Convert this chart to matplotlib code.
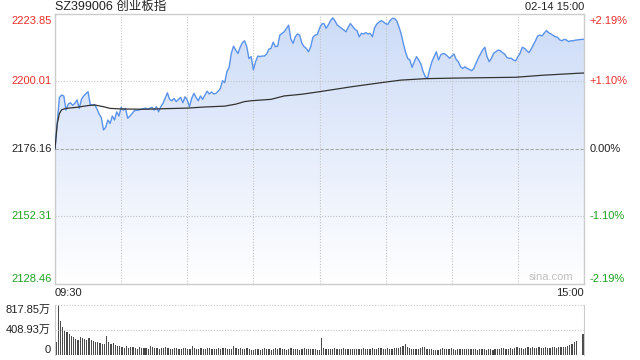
import numpy as np
import matplotlib
matplotlib.use("Agg")
import matplotlib.pyplot as plt
from matplotlib.patches import Polygon
from matplotlib.transforms import offset_copy

plt.rcParams["font.family"] = ["Liberation Sans", "Noto Sans CJK SC", "DejaVu Sans"]

title = "SZ399006 创业板指"
stamp = "02-14 15:00"
prev_close = 2176.16

price_levels = [2223.85, 2200.01, 2176.16, 2152.31, 2128.46]
left_labels = ["2223.85", "2200.01", "2176.16", "2152.31", "2128.46"]
right_labels = ["+2.19%", "+1.10%", "0.00%", "-1.10%", "-2.19%"]

vol_levels = [817.85, 408.93, 0]
vol_labels = ["817.85万", "408.93万", "0"]
time_labels = ["09:30", "15:00"]

# minute index (0 = 09:30, 120 = 11:30/13:00, 240 = 15:00) and index value
price_minutes = [
    0, 2, 3, 4, 5, 6, 7, 8, 9, 10, 11, 12, 13, 15, 16, 17, 18, 19, 20, 21,
    22, 23, 24, 25, 26, 27, 28, 29, 30, 31, 32, 33, 34, 35, 36, 38, 39, 41, 42, 44,
    45, 46, 47, 48, 49, 51, 52, 53, 54, 55, 57, 58, 59, 60, 61, 62, 63, 64, 65, 66,
    67, 68, 69, 70, 71, 72, 73, 74, 75, 76, 77, 78, 79, 80, 81, 82, 83, 84, 85, 86,
    87, 88, 89, 90, 91, 92, 93, 94, 95, 96, 97, 98, 99, 100, 101, 102, 103, 104, 106, 107,
    108, 109, 110, 111, 112, 113, 114, 115, 116, 117, 118, 119, 120, 121, 122, 123, 124, 125, 126, 127,
    128, 129, 130, 131, 132, 133, 134, 135, 136, 137, 138, 139, 140, 141, 142, 143, 144, 145, 146, 147,
    148, 149, 150, 151, 152, 153, 154, 155, 156, 157, 158, 159, 160, 161, 162, 163, 164, 165, 166, 167,
    168, 169, 170, 171, 172, 173, 174, 175, 176, 177, 178, 179, 180, 181, 182, 183, 184, 185, 186, 187,
    188, 189, 190, 191, 192, 193, 194, 195, 196, 197, 198, 199, 200, 201, 202, 203, 204, 205, 206, 207,
    208, 209, 210, 211, 212, 213, 214, 215, 216, 217, 218, 219, 220, 221, 222, 223, 224, 225, 226, 227,
    228, 229, 230, 231, 232, 233, 234, 235, 236, 237, 238, 239, 240,
]
prices = [
    2176.2, 2194.4, 2195.2, 2194.9, 2189.9, 2192.0, 2192.5, 2191.6, 2192.3, 2193.5,
    2190.5, 2193.7, 2194.9, 2196.4, 2191.9, 2191.7, 2191.8, 2190.4, 2188.5, 2187.3,
    2182.9, 2183.8, 2186.4, 2185.2, 2187.8, 2186.4, 2189.3, 2187.8, 2190.9, 2189.9,
    2190.5, 2187.0, 2187.8, 2188.7, 2189.7, 2189.9, 2190.2, 2190.6, 2190.2, 2190.9,
    2189.9, 2191.1, 2189.3, 2191.1, 2192.3, 2196.0, 2193.7, 2193.2, 2194.0, 2192.9,
    2194.4, 2192.5, 2194.6, 2193.5, 2191.1, 2194.0, 2195.8, 2194.4, 2193.2, 2194.9,
    2193.7, 2195.2, 2196.6, 2195.6, 2196.3, 2195.6, 2195.8, 2196.6, 2197.5, 2200.3,
    2199.6, 2203.5, 2205.0, 2210.0, 2212.5, 2211.1, 2209.9, 2212.1, 2213.7, 2214.4,
    2212.3, 2208.1, 2208.8, 2204.1, 2207.0, 2209.0, 2208.8, 2209.0, 2209.0, 2209.7,
    2211.4, 2211.7, 2213.9, 2212.3, 2212.5, 2216.4, 2217.0, 2217.6, 2219.9, 2215.0,
    2213.5, 2215.8, 2216.8, 2216.4, 2213.5, 2212.3, 2211.7, 2210.5, 2212.3, 2215.6,
    2216.4, 2216.6, 2218.8, 2220.3, 2220.5, 2218.8, 2220.0, 2221.5, 2222.5, 2221.5,
    2220.0, 2219.4, 2218.8, 2218.2, 2217.6, 2219.1, 2220.5, 2219.5, 2218.5, 2218.0,
    2215.8, 2217.0, 2216.8, 2217.3, 2216.8, 2217.0, 2215.8, 2219.0, 2220.3, 2221.0,
    2221.5, 2221.1, 2220.4, 2220.2, 2221.5, 2222.3, 2222.3, 2221.5, 2219.4, 2217.0,
    2213.5, 2210.5, 2208.2, 2207.6, 2205.0, 2207.0, 2208.8, 2207.6, 2206.2, 2203.5,
    2201.7, 2201.1, 2204.3, 2207.0, 2208.8, 2210.5, 2207.6, 2209.4, 2209.9, 2209.7,
    2209.0, 2208.2, 2209.0, 2209.7, 2207.8, 2207.0, 2205.2, 2204.6, 2205.2, 2204.6,
    2204.3, 2203.8, 2204.6, 2206.5, 2208.2, 2209.7, 2211.1, 2212.1, 2208.8, 2207.0,
    2208.2, 2210.0, 2210.5, 2211.1, 2210.9, 2210.2, 2209.7, 2208.5, 2208.2, 2208.2,
    2207.6, 2207.3, 2208.8, 2210.0, 2212.1, 2211.7, 2210.9, 2210.2, 2211.4, 2212.9,
    2214.4, 2216.1, 2216.4, 2216.1, 2217.2, 2218.0, 2217.2, 2216.8, 2216.3, 2215.8,
    2215.6, 2214.7, 2214.4, 2214.9, 2214.7, 2214.1, 2214.4, 2214.4, 2214.6, 2214.7,
    2214.8, 2214.9, 2214.9,
]

avg_minutes = [0, 1, 2, 3, 5, 10, 15, 18, 22, 25, 30, 40, 50, 60, 68, 77, 82, 86, 89, 98,
               104, 112, 120, 135, 150, 157, 168, 181, 209, 221, 237, 240]
avg_prices = [2176.2, 2185.0, 2188.7, 2190.0, 2190.5, 2190.9, 2191.5, 2191.7, 2191.1, 2190.5,
              2190.3, 2190.2, 2190.4, 2190.6, 2191.0, 2191.3, 2192.0, 2192.9, 2193.2, 2193.7,
              2194.9, 2195.5, 2196.4, 2198.2, 2199.8, 2200.5, 2201.0, 2201.2, 2201.5, 2202.2,
              2202.9, 2203.0]

# per-minute volume, 万 shares
volumes = [
    218, 818, 556, 458, 414, 371, 338, 316, 294, 262,
    251, 294, 283, 262, 240, 273, 251, 229, 218, 207,
    196, 185, 175, 305, 218, 175, 196, 164, 153, 142,
    131, 120, 142, 109, 131, 126, 115, 104, 136, 120,
    109, 115, 104, 153, 126, 120, 115, 104, 109, 120,
    131, 115, 98, 104, 109, 115, 98, 104, 120, 109,
    104, 98, 147, 115, 93, 104, 109, 98, 104, 115,
    109, 98, 93, 104, 115, 98, 109, 120, 104, 98,
    93, 142, 109, 104, 115, 104, 98, 109, 93, 87,
    76, 93, 98, 82, 98, 109, 104, 93, 87, 98,
    109, 98, 115, 104, 98, 87, 104, 109, 98, 93,
    104, 87, 98, 109, 104, 98, 93, 104, 98, 87,
    76, 283, 120, 98, 93, 104, 98, 109, 104, 93,
    98, 109, 93, 98, 104, 93, 98, 104, 98, 93,
    109, 98, 104, 98, 109, 104, 98, 115, 109, 104,
    98, 109, 104, 98, 109, 120, 109, 131, 153, 175,
    131, 109, 98, 104, 98, 104, 120, 136, 131, 104,
    98, 93, 82, 87, 76, 98, 115, 104, 93, 104,
    109, 98, 87, 104, 98, 93, 98, 104, 93, 98,
    104, 93, 87, 98, 104, 93, 87, 98, 93, 82,
    98, 104, 98, 120, 109, 98, 104, 109, 104, 115,
    126, 120, 109, 104, 115, 126, 120, 126, 115, 120,
    126, 120, 115, 126, 120, 115, 126, 131, 120, 126,
    131, 136, 136, 147, 164, 185, 207, 229, 4, 4,
    338,
]

RED = "#e8302c"
GREEN = "#1ea21e"
BLACK = "#222222"


def level_color(v):
    if v > prev_close + 0.001:
        return RED
    if v < prev_close - 0.001:
        return GREEN
    return BLACK


fig = plt.figure(figsize=(6.4, 3.6), dpi=100)
ax = fig.add_axes([55 / 640, 1 - 284 / 360, 529 / 640, 270 / 360])
vax = fig.add_axes([55 / 640, 1 - 355 / 360, 529 / 640, 50 / 360])

lo, hi = price_levels[-1], price_levels[0]
n_min = len(volumes) - 1

# gradient fill under the price line
top_rgb = np.array([0.80, 0.86, 0.97])
bot_rgb = np.array([1.0, 1.0, 1.0])
t = np.linspace(0, 1, 256)[:, None]
grad = (top_rgb * (1 - t) + bot_rgb * t)[:, None, :]
im = ax.imshow(grad, extent=[0, n_min, lo, hi], aspect="auto", origin="upper", zorder=1)
verts = [(price_minutes[0], lo)] + list(zip(price_minutes, prices)) + [(price_minutes[-1], lo)]
clip = Polygon(verts, closed=True, fc="none", ec="none")
ax.add_patch(clip)
im.set_clip_path(clip)

ax.set_xlim(0, n_min)
ax.set_ylim(lo, hi)

for k in range(30, n_min, 30):
    ax.axvline(k, color="#c4c4c4", lw=0.8, ls=(0, (1, 1.5)), zorder=2)
for v in price_levels[1:-1]:
    if v == prev_close:
        ax.axhline(v, color="#a8a8a8", lw=0.8, ls=(0, (3, 1.5)), zorder=2)
    else:
        ax.axhline(v, color="#c4c4c4", lw=0.8, ls=(0, (1, 1.5)), zorder=2)

ax.plot(price_minutes, prices, color="#5b93ea", lw=1.0, zorder=3)
ax.plot(avg_minutes, avg_prices, color="#333333", lw=0.9, zorder=4)

for s in ax.spines.values():
    s.set_color("#cccccc")
    s.set_linewidth(1.0)
ax.set_xticks([])
ax.set_yticks([])

# edge labels sit just inside the plot box
ytr = ax.get_yaxis_transform()
for i, (v, l, r) in enumerate(zip(price_levels, left_labels, right_labels)):
    if i == 0:
        va, tr = "top", offset_copy(ytr, fig=fig, y=-2, units="dots")
    elif i == len(price_levels) - 1:
        va, tr = "bottom", ytr
    else:
        va, tr = "center", ytr
    c = level_color(v)
    ax.text(-0.006, v, l, transform=tr, ha="right", va=va, fontsize=8, color=c)
    ax.text(1.010, v, r, transform=tr, ha="left", va=va, fontsize=8, color=c)

ax.text(0.979, 0.026, "sina.com", transform=ax.transAxes, ha="right", va="center",
        fontsize=8, color="#c0c0c0")

# volume panel
vax.bar(range(len(volumes)), volumes, width=0.55, color="#4a4a4a", lw=0)
vax.set_xlim(-0.5, n_min + 0.5)
vax.set_ylim(0, vol_levels[0])
for v in vol_levels[:2]:
    vax.axhline(v, color="#c4c4c4", lw=0.8, ls=(0, (1, 1.5)), clip_on=False)
for side in ["top", "bottom"]:
    vax.spines[side].set_visible(False)
for side in ["left", "right"]:
    vax.spines[side].set_color("#cccccc")
vax.set_xticks([])
vax.set_yticks([])
vtr = vax.get_yaxis_transform()
for i, (v, l) in enumerate(zip(vol_levels, vol_labels)):
    va = "top" if i == 0 else ("bottom" if i == len(vol_levels) - 1 else "center")
    vax.text(-0.008, v, l, transform=vtr, ha="right", va=va, fontsize=8, color=BLACK)

fig.text(55 / 640, 1 - 7 / 360, title, ha="left", va="center", fontsize=9, color=BLACK)
fig.text(584 / 640, 1 - 7 / 360, stamp, ha="right", va="center", fontsize=8, color=BLACK)
fig.text(55 / 640, 1 - 293.5 / 360, time_labels[0], ha="left", va="center", fontsize=8, color=BLACK)
fig.text(584 / 640, 1 - 293.5 / 360, time_labels[1], ha="right", va="center", fontsize=8, color=BLACK)

fig.savefig("out.png", dpi=100, facecolor="white")
